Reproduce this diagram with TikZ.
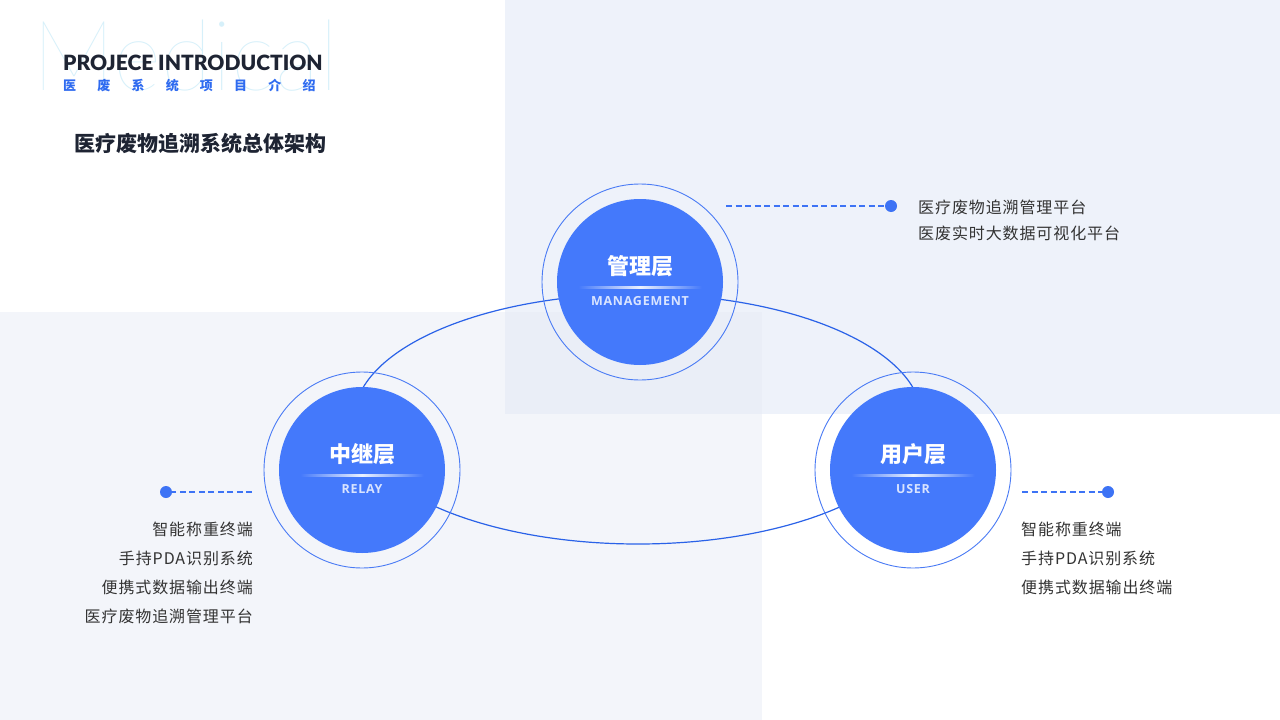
\documentclass[tikz,border=0pt]{standalone}
\usepackage{fontspec}
\setmainfont{Noto Sans CJK SC}
\newfontfamily\cjk{Noto Sans CJK SC}
\newfontfamily\lato{Lato}
\newfontfamily\opensans{Open Sans}
\IfFontExistsTF{Lato Thin}{\newfontfamily\thinfont{Lato Thin}}{%
  \IfFontExistsTF{Lato Hairline}{\newfontfamily\thinfont{Lato Hairline}}{%
    \IfFontExistsTF{Lato Light}{\newfontfamily\thinfont{Lato Light}}{\newfontfamily\thinfont{Lato}}}}
\IfFontExistsTF{Lato Black}{\newfontfamily\heavyfont{Lato Black}}{\newfontfamily\heavyfont{Lato}[UprightFont=*-Bold,FakeBold=0.4]}
\definecolor{bgA}{HTML}{EEF2FA}
\definecolor{bgB}{HTML}{F3F5FA}
\definecolor{bgAB}{HTML}{EAEEF7}
\definecolor{mainblue}{HTML}{4479FB}
\definecolor{ringblue}{HTML}{4A7BF5}
\definecolor{lineblue}{HTML}{2A62E8}
\definecolor{dotblue}{HTML}{3D73F5}
\definecolor{titledark}{HTML}{1E2433}
\definecolor{subblue}{HTML}{2F6BF0}
\definecolor{bodytext}{HTML}{333333}
\definecolor{ghost}{HTML}{D6F0FA}
\definecolor{engtext}{HTML}{D9E4FF}
\begin{document}
\begin{tikzpicture}[x=1pt,y=-1pt,
  core/.style={circle,fill=mainblue,minimum size=166pt,inner sep=0pt},
  ring/.style={circle,draw=ringblue,line width=0.9pt,minimum size=196pt,inner sep=0pt},
  cnname/.style={font=\cjk\bfseries\fontsize{22}{22}\selectfont,text=white},
  enname/.style={font=\opensans\bfseries\fontsize{12.5}{12.5}\selectfont\addfontfeature{LetterSpace=6},text=engtext},
  dot/.style={circle,fill=dotblue,minimum size=12pt,inner sep=0pt},
  leader/.style={draw=dotblue,line width=1.4pt,dash pattern=on 6pt off 3.5pt},
  listtext/.style={font=\cjk\fontsize{16}{29}\selectfont\addfontfeature{LetterSpace=5.6},text=bodytext,inner sep=0pt},
  orbit/.style={draw=lineblue,line width=1.2pt}
]
\useasboundingbox (0,0) rectangle (1280,720);
\fill[white] (0,0) rectangle (1280,720);
\fill[bgA] (505,0) rectangle (1280,414);
\fill[bgB] (0,312) rectangle (762,720);
\fill[bgAB] (505,312) rectangle (762,414);

% header
\node[font=\thinfont\fontsize{98}{98}\selectfont,text=ghost,inner sep=0pt,anchor=west,xscale=0.95] (ghostword) at (32,56) {Medical};
\node[font=\heavyfont\fontsize{21}{21}\selectfont,text=titledark,inner sep=0pt,anchor=west] (entitle) at (63,63) {PROJECE INTRODUCTION};
\node[font=\cjk\bfseries\fontsize{13}{13}\selectfont,text=subblue,inner sep=0pt,anchor=west] (cntitle) at (63,86)
  {医\hspace{21.2pt}废\hspace{21.2pt}系\hspace{21.2pt}统\hspace{21.2pt}项\hspace{21.2pt}目\hspace{21.2pt}介\hspace{21.2pt}绍};
\node[font=\cjk\bfseries\fontsize{21}{21}\selectfont,text=titledark,inner sep=0pt,anchor=west] (maintitle) at (74,143) {医疗废物追溯系统总体架构};

% orbit
\draw[orbit] (638,419) ellipse [x radius=284pt, y radius=125pt];

% circles
\node[ring] (mgmtR) at (640,282) {};
\node[core] (mgmt) at (640,282) {};
\node[ring] (relayR) at (362,470) {};
\node[core] (relay) at (362,470) {};
\node[ring] (userR) at (913,470) {};
\node[core] (user) at (913,470) {};

\foreach \n/\cx/\cy/\cn/\en in {m/640/282/管理层/MANAGEMENT, r/362/470/中继层/RELAY, u/913/470/用户层/USER}{
  \node[cnname] (\n cn) at (\cx,\cy-16) {\cn};
  \shade[left color=mainblue,right color=mainblue,middle color=white,opacity=0.9] (\cx-62,\cy+4.5) rectangle (\cx+62,\cy+6);
  \node[enname] (\n en) at (\cx,\cy+19) {\en};
}

% management leader
\coordinate (mStart) at (726,206);
\node[dot] (mDot) at (891,206) {};
\draw[leader] (mStart) -- (mDot);
\node[listtext,font=\cjk\fontsize{16}{26}\selectfont\addfontfeature{LetterSpace=5.6},anchor=north west,align=left] (mList) at (918,200) {医疗废物追溯管理平台\\医废实时大数据可视化平台};

% relay leader
\coordinate (rStart) at (252,492);
\node[dot] (rDot) at (166,492) {};
\draw[leader] (rStart) -- (rDot);
\node[listtext,anchor=north east,align=right] (rList) at (253,522) {智能称重终端\\手持PDA识别系统\\便携式数据输出终端\\医疗废物追溯管理平台};

% user leader
\coordinate (uStart) at (1022,492);
\node[dot] (uDot) at (1108,492) {};
\draw[leader] (uStart) -- (uDot);
\node[listtext,anchor=north west,align=left] (uList) at (1021,522) {智能称重终端\\手持PDA识别系统\\便携式数据输出终端};
\end{tikzpicture}
\end{document}
